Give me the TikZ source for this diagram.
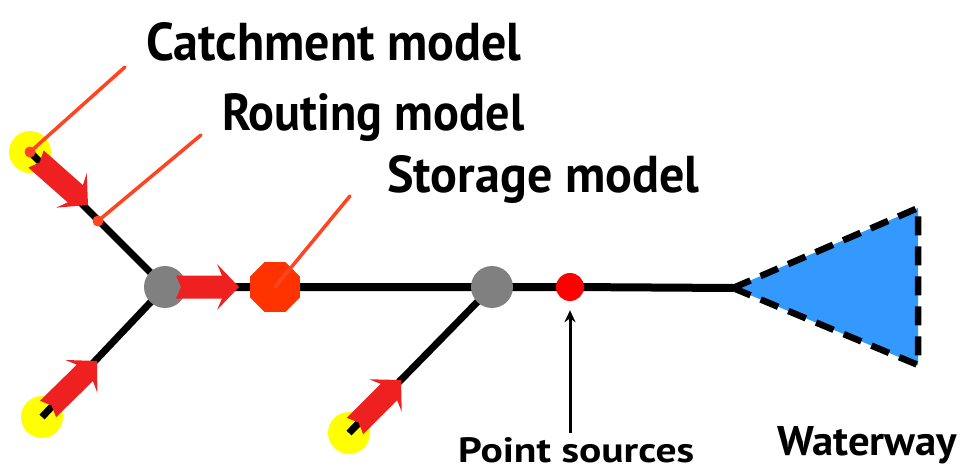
\documentclass[tikz,border=0pt]{standalone}
\usepackage{fontspec}
\usepackage{graphicx}
\setmainfont{PT Sans}
\usetikzlibrary{arrows.meta,shapes.geometric,calc}

\definecolor{srcyellow}{HTML}{FFFF00}
\definecolor{arrowred}{HTML}{EE2020}
\definecolor{junctiongrey}{HTML}{808080}
\definecolor{leaderorange}{HTML}{FF4422}
\definecolor{storageorange}{HTML}{FF3300}
\definecolor{pointred}{HTML}{FF0000}
\definecolor{waterblue}{HTML}{3399FF}

% Fat flow arrow: #1 = tail, #2 = tip (named coordinates)
\newcommand\fatarrow[2]{%
  \coordinate (fa-h) at ($(#2)!17pt!(#1)$);
  \coordinate (fa-w) at ($(#2)!22pt!(#1)$);
  \coordinate (fa-t) at ($(#1)!5pt!(#2)$);
  \fill[arrowred]
    ($(#1)!11.5pt!90:(#2)$) -- ($(fa-h)!11.5pt!90:(#2)$) -- ($(fa-w)!23pt!90:(#2)$)
    -- (#2)
    -- ($(fa-w)!23pt!-90:(#2)$) -- ($(fa-h)!11.5pt!-90:(#2)$) -- ($(#1)!11.5pt!-90:(#2)$)
    -- (fa-t) -- cycle;
}

% Bold label fitted to a given width and height
\newcommand\fitlabel[3]{\resizebox{#1}{#2}{\bfseries #3}}

\tikzset{
  source/.style={circle, fill=srcyellow, minimum size=42pt, inner sep=0pt},
  junction/.style={circle, fill=junctiongrey, minimum size=42pt, inner sep=0pt},
  storage/.style={regular polygon, regular polygon sides=8, fill=storageorange, minimum size=54pt, inner sep=0pt},
  pointsrc/.style={circle, fill=pointred, minimum size=28pt, inner sep=0pt},
  river/.style={line width=7pt, black},
  mainriver/.style={line width=8pt, black},
  leader/.style={line width=3.5pt, leaderorange, line cap=round},
  leaderdot/.style={circle, fill=leaderorange, minimum size=11pt, inner sep=0pt},
  label/.style={anchor=base west, inner sep=0pt},
  waterway/.style={fill=waterblue, draw=black, line width=6.5pt, dash pattern=on 19pt off 11pt, line join=miter},
}

\begin{document}
\begin{tikzpicture}[x=1pt, y=-1pt]
  \useasboundingbox[fill=white] (0,0) rectangle (963,470);

  % sources (catchments)
  \node[source] (c1) at (30,152) {};
  \node[source] (c2) at (42,417) {};
  \node[source] (c3) at (349,433) {};

  % junctions, storage, point source and outlet
  \coordinate (j1) at (165,287);
  \coordinate (j2) at (492,287);
  \coordinate (st) at (275,287);
  \coordinate (ps) at (570,287);
  \coordinate (wt) at (733,288);
  \coordinate (wa) at (918,208);
  \coordinate (wb) at (918,365);

  % river network
  \draw[river] (c1.center) -- (j1);
  \draw[river] (c2.center) -- (j1);
  \draw[river] (c3.center) -- (j2);
  \draw[mainriver] (j1) -- (st) -- (j2) -- (ps) -- (wt);

  % waterway
  \draw[waterway] (wt) -- (wa) -- (wb) -- cycle;

  \node[junction] (n1) at (j1) {};
  \node[junction] (n2) at (j2) {};
  \node[storage] (sn) at (st) {};
  \node[pointsrc] (pn) at (ps) {};

  % flow arrows
  \coordinate (a1t) at (36,159);  \coordinate (a1h) at (88,205);
  \coordinate (a2t) at (48,409);  \coordinate (a2h) at (97,361);
  \coordinate (a3t) at (355,426); \coordinate (a3h) at (401,380);
  \coordinate (a4t) at (176,287); \coordinate (a4h) at (239,287);
  \fatarrow{a1t}{a1h}
  \fatarrow{a2t}{a2h}
  \fatarrow{a3t}{a3h}
  \fatarrow{a4t}{a4h}

  % leader lines
  \coordinate (rt) at (98,221);
  \coordinate (l1) at (125,67);
  \coordinate (l2) at (201,135);
  \coordinate (l3) at (350,196);
  \draw[leader] (c1.center) -- (l1);
  \draw[leader] (rt) -- (l2);
  \draw[leader] (sn.center) -- (l3);
  \node[leaderdot] (d1) at (c1.center) {};
  \node[leaderdot] (d2) at (rt) {};

  % labels
  \node[label] (tc) at (146,61)  {\fitlabel{375pt}{38pt}{Catchment model}};
  \node[label] (tr) at (222,131) {\fitlabel{302pt}{37pt}{Routing model}};
  \node[label] (ts) at (387,193) {\fitlabel{312pt}{37pt}{Storage model}};
  \node[label] (tp) at (458,462) {\fitlabel{236pt}{25pt}{Point sources}};
  \node[label] (tw) at (777,455) {\fitlabel{180pt}{29pt}{Waterway}};

  % point-source pointer
  \coordinate (pa) at (570,433);
  \draw[line width=3pt, -{Stealth[length=12pt,width=11pt]}, shorten >=9pt] (pa) -- (pn.south);
\end{tikzpicture}
\end{document}
